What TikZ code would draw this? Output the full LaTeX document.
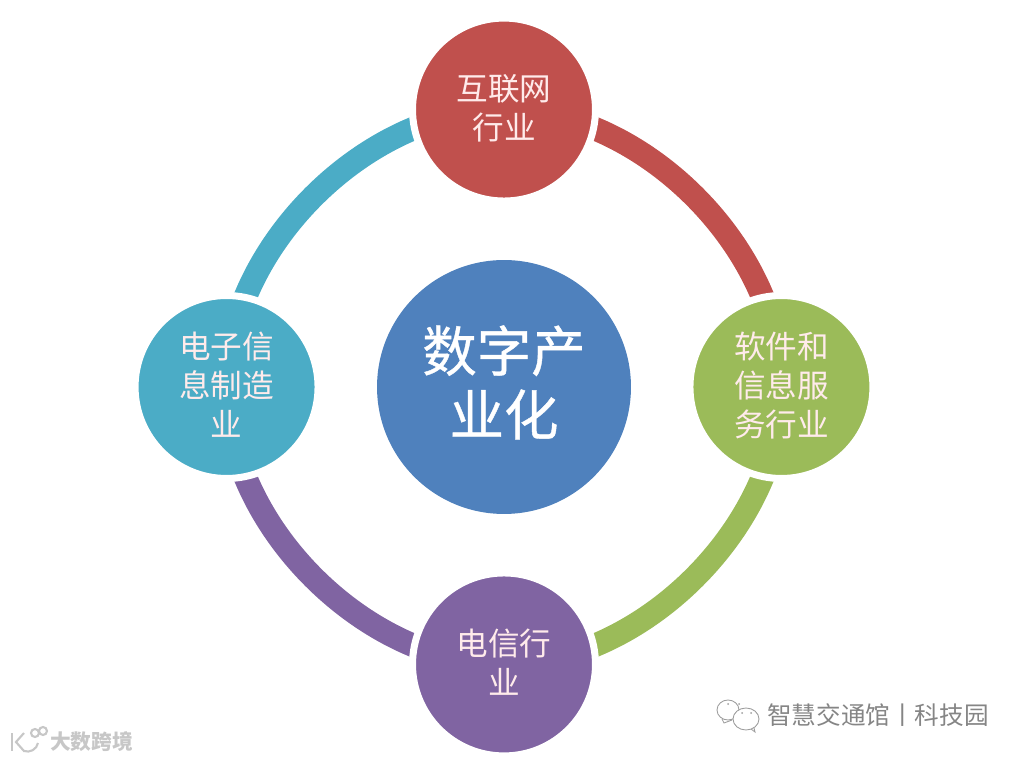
\documentclass[tikz,border=0pt]{standalone}
\usepackage{fontspec}
\newfontfamily\cjk{Noto Sans CJK SC}
\newfontfamily\cjkhub[FakeBold=0.7]{Noto Sans CJK SC}
\usetikzlibrary{positioning, backgrounds}
\definecolor{netred}{HTML}{C0504D}
\definecolor{softgreen}{HTML}{9BBB59}
\definecolor{telepurple}{HTML}{8064A2}
\definecolor{chipteal}{HTML}{4BACC6}
\definecolor{hubblue}{HTML}{4F81BD}

\begin{document}
\begin{tikzpicture}[
  x=0.02cm, y=0.02cm,
  on grid,
  hub/.style={circle, fill=hubblue, minimum size=5.08cm, inner sep=0pt, align=center,
              text=white, text depth=7.7pt, font=\cjkhub\fontsize{31}{36.3}\selectfont},
  spoke/.style={circle, draw=white, line width=0.14cm, minimum size=3.66cm, inner sep=0pt,
                align=center, text=white!92!red, text depth=3.3pt,
                font=\cjk\fontsize{18}{22.1}\selectfont},
  ring/.style={line width=0.47cm, bend left=45, looseness=0.9},
  wmark/.style={font=\cjk\fontsize{14}{16}\selectfont, text=black!48},
  wfaint/.style={font=\cjk\bfseries\fontsize{11.8}{14}\selectfont, text=black!22},
  icon/.style={draw=black!38, line width=0.5pt},
  logo/.style={draw=black!22, line width=1.2pt},
]
\useasboundingbox (-504,-373) rectangle (520,387);

% ---------- Centre and the four sectors ----------
\node[hub] (hub) at (0,0) {数字产\\业化};
\node[spoke, fill=netred, above=5.55cm of hub] (net) {互联网\\行业};
\node[spoke, fill=softgreen, right=5.55cm of hub] (soft) {软件和\\信息服\\务行业};
\node[spoke, fill=telepurple, below=5.55cm of hub] (tele) {电信行\\业};
\node[spoke, fill=chipteal, left=5.55cm of hub] (chip) {电子信\\息制造\\业};

% ---------- Ring segments ----------
\begin{scope}[on background layer]
\draw[ring, netred] (net.center) to (soft.center);
\draw[ring, softgreen] (soft.center) to (tele.center);
\draw[ring, telepurple] (tele.center) to (chip.center);
\draw[ring, chipteal] (chip.center) to (net.center);
\end{scope}

% ---------- Watermarks ----------
\node[wmark] (wechat) at (374,-328) {智慧交通馆丨科技园};
\draw[icon] (224,-323) ellipse (11 and 10);
\draw[icon] (218,-332) -- (220,-336) -- (228,-333);
\draw[icon, fill=white] (242,-332) ellipse (13 and 11);
\draw[icon] (247,-342) -- (251,-345) -- (250,-341);
\fill[black!38] (224,-317) circle (1) (235,-317) circle (1) (238,-326) circle (1) (247,-326) circle (1);
\node[wfaint] (site) at (-412.5,-355) {大数跨境};
\draw[logo] (-492,-346) -- (-492,-364);
\draw[logo] (-480,-346) -- (-488,-355) -- (-480,-364) to[bend right=50] (-466,-356);
\draw[logo] (-469,-346) circle (4);
\draw[logo] (-461,-344) circle (4);

\end{tikzpicture}
\end{document}
